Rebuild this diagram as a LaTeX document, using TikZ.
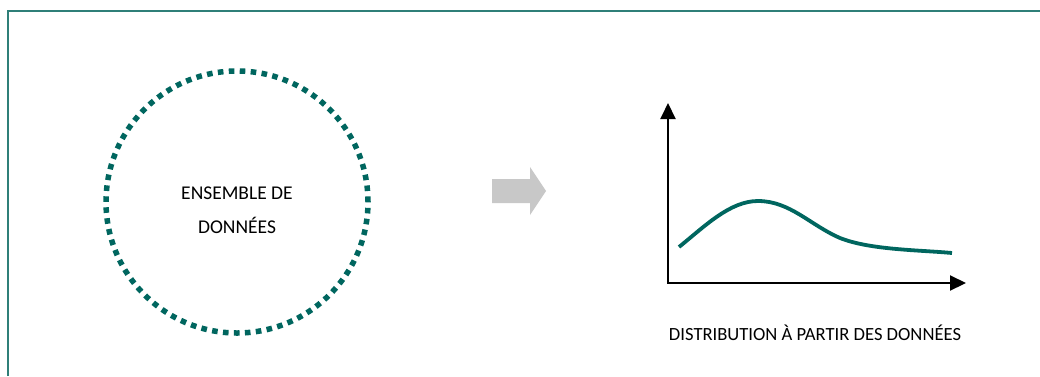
\documentclass[tikz,border=0pt]{standalone}
\usepackage{fontspec}
\setmainfont{Carlito}
\usetikzlibrary{arrows.meta}
\definecolor{teal1}{HTML}{00665F}
\definecolor{frameteal}{HTML}{2F7F78}
\definecolor{arrowgray}{HTML}{C8C8C8}
\begin{document}
\begin{tikzpicture}[x=1pt,y=-1pt,
  frameline/.style={draw=frameteal,line width=1.6pt},
  dotring/.style={draw=teal1,line width=5.5pt,dash pattern=on 5.6pt off 5.37pt,line cap=butt},
  axis/.style={draw=black,line width=2pt,-{Triangle[length=16pt,width=15pt]}},
  curve/.style={draw=teal1,line width=3.8pt,line cap=butt},
  lbl/.style={font=\fontsize{19.5}{34}\selectfont,text=black,inner sep=0pt,align=center}]
\useasboundingbox (0,0) rectangle (1040,376);
\fill[white] (0,0) rectangle (1040,376);
% frame
\coordinate (fbl) at (8,376);
\coordinate (ftl) at (8,11);
\coordinate (ftr) at (1040,11);
\draw[frameline] (fbl) -- (ftl) -- (ftr);
% data set circle
\node[circle,minimum size=262pt,inner sep=0pt] (ring) at (237,202) {};
\draw[dotring] (ring.center) circle[radius=131pt];
\node[lbl] (settext) at (237,210) {ENSEMBLE DE\\DONNÉES};
% gray arrow
\fill[arrowgray] (492,179) -- (530,179) -- (530,167) -- (546,191) -- (530,215) -- (530,203) -- (492,203) -- cycle;
% axes
\coordinate (o) at (668,283);
\coordinate (ytip) at (668,103);
\coordinate (xtip) at (966,283);
\draw[axis] ([yshift=1pt]o) -- (ytip);
\draw[axis] ([xshift=-1pt]o) -- (xtip);
% curve
\coordinate (c0) at (679,247);
\coordinate (c1) at (758,201);
\coordinate (c2) at (840,238);
\coordinate (c3) at (952,253);
\draw[curve] (c0) .. controls (705,226) and (730,201) .. (c1)
  .. controls (790,201) and (810,225) .. (c2)
  .. controls (870,250) and (920,250) .. (c3);
\node[lbl,font=\fontsize{18.6}{22}\selectfont,anchor=base] (dlabel) at (815,340) {DISTRIBUTION À PARTIR DES DONNÉES};
\end{tikzpicture}
\end{document}
